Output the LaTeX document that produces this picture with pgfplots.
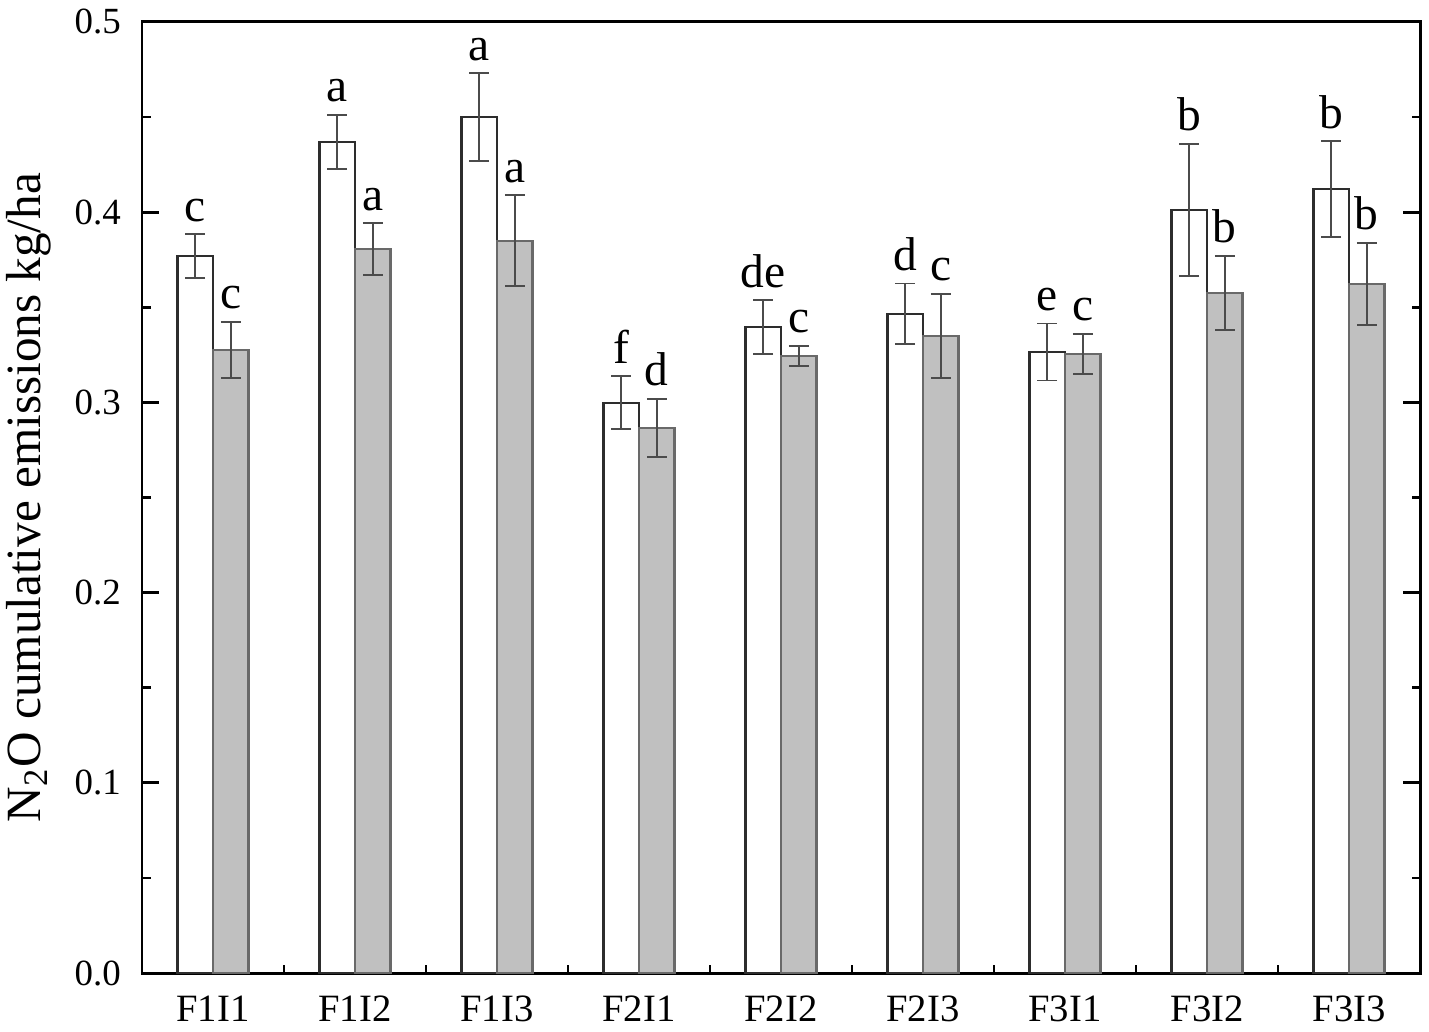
\documentclass[border=0pt]{standalone}
\usepackage{fontspec}
\setmainfont{Liberation Serif}
\usepackage{pgfplots}
\pgfplotsset{compat=1.18}
\usepackage{pgfplotstable}

\definecolor{barfill}{RGB}{192,192,192}
\definecolor{grayedge}{RGB}{105,105,105}
\definecolor{whiteedge}{RGB}{45,45,45}
\definecolor{errcol}{RGB}{75,75,75}

\pgfplotstableread{
x  w       we      wl  g       ge      gl
1  0.3770  0.0115  c   0.3276  0.0147  c
2  0.4370  0.0142  a   0.3806  0.0137  a
3  0.4500  0.0230  a   0.3850  0.0240  a
4  0.2999  0.0139  f   0.2865  0.0154  d
5  0.3396  0.0142  de  0.3244  0.0053  c
6  0.3465  0.0160  d   0.3350  0.0220  c
7  0.3265  0.0150  e   0.3255  0.0105  c
8  0.4012  0.0347  b   0.3575  0.0195  b
9  0.4122  0.0252  b   0.3623  0.0216  b
}\data

\begin{document}
\begin{tikzpicture}
\begin{axis}[
    scale only axis,
    width=12.78cm, height=9.51cm,
    xmin=0.5, xmax=9.5,
    ymin=0, ymax=0.5,
    xtick={1,...,9},
    xticklabels={F1I1,F1I2,F1I3,F2I1,F2I2,F2I3,F3I1,F3I2,F3I3},
    minor xtick={1.5,2.5,3.5,4.5,5.5,6.5,7.5,8.5},
    ytick={0,0.1,0.2,0.3,0.4,0.5},
    minor ytick={0.05,0.15,0.25,0.35,0.45},
    xtick pos=left,
    ytick pos=both,
    yticklabel pos=left,
    tick align=inside,
    major tick length=0.17cm,
    minor tick length=0.085cm,
    tick style={black, line width=0.8pt},
    axis line style={line width=0.85pt},
    /pgf/number format/assume math mode=true,
    /pgf/number format/fixed,
    /pgf/number format/fixed zerofill,
    /pgf/number format/precision=1,
    tick label style={font=\fontsize{10.5}{12}\selectfont},
    xticklabel style={yshift=-3pt, font=\fontsize{11}{13}\selectfont},
    yticklabel style={xshift=-2.5pt},
    ylabel={N\textsubscript{2}O cumulative emissions kg/ha},
    ylabel style={font=\fontsize{14}{16}\selectfont, at={(axis description cs:-0.089,0.5)}, anchor=center},
    error bars/error bar style={errcol, line width=0.55pt},
    error bars/error mark options={rotate=90, errcol, line width=0.55pt, mark size=2.8pt},
]
% bars placed by x expr so that error bars sit on the bar centres
\addplot[ybar, bar width=0.25, bar shift=0pt, fill=white, draw=whiteedge, line width=0.6pt,
    error bars/.cd, y dir=both, y explicit]
    table[x expr=\thisrow{x}-0.125, y=w, y error=we] {\data};
\addplot[ybar, bar width=0.25, bar shift=0pt, fill=barfill, draw=grayedge, line width=0.6pt,
    error bars/.cd, y dir=both, y explicit]
    table[x expr=\thisrow{x}+0.125, y=g, y error=ge] {\data};

\addplot[draw=none, mark=none, nodes near coords, point meta=explicit symbolic,
    every node near coord/.style={anchor=base, inner sep=0pt, yshift=3.7pt, black, font=\fontsize{13.5}{15}\selectfont}]
    table[x expr=\thisrow{x}-0.125, y expr=\thisrow{w}+\thisrow{we}, meta=wl] {\data};
\addplot[draw=none, mark=none, nodes near coords, point meta=explicit symbolic,
    every node near coord/.style={anchor=base, inner sep=0pt, yshift=3.7pt, black, font=\fontsize{13.5}{15}\selectfont}]
    table[x expr=\thisrow{x}+0.125, y expr=\thisrow{g}+\thisrow{ge}, meta=gl] {\data};
\end{axis}
\pgfresetboundingbox
\path[use as bounding box] ([xshift=-1.42cm,yshift=-0.58cm]current axis.south west) rectangle ([xshift=0.09cm,yshift=0.22cm]current axis.north east);
\end{tikzpicture}
\end{document}
